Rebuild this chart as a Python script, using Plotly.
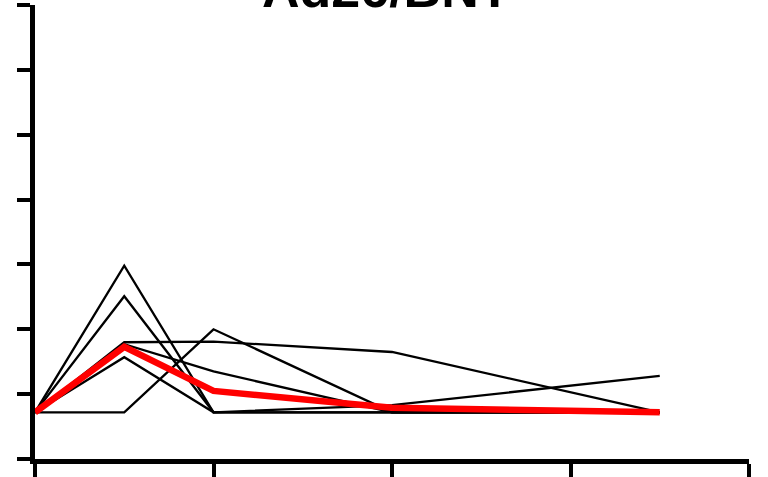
import plotly.graph_objects as go

# Sampling times (x axis) and axis tick positions
times = [0, 1, 2, 4, 7]
x_ticks = [0, 2, 4, 6, 8]
y_ticks = [0, 1, 2, 3, 4, 5, 6, 7]

# Individual subject responses
subject_1 = [0.72, 2.98, 0.72, 0.72, 0.72]
subject_2 = [0.72, 2.51, 0.72, 0.72, 0.72]
subject_3 = [0.72, 1.80, 1.81, 1.65, 0.72]
subject_4 = [0.72, 1.77, 1.35, 0.72, 0.72]
subject_5 = [0.72, 1.57, 0.72, 0.83, 1.28]
subject_6 = [0.72, 0.72, 2.00, 0.72, 0.72]
subjects = [subject_1, subject_2, subject_3, subject_4, subject_5, subject_6]

# Group summary curve
group_mean = [0.72, 1.73, 1.05, 0.79, 0.72]

title_text = "Ad26/BNT"

fig = go.Figure()

for values in subjects:
    fig.add_trace(go.Scatter(
        x=times, y=values, mode="lines",
        line=dict(color="black", width=2.3),
        showlegend=False, hoverinfo="skip",
    ))

fig.add_trace(go.Scatter(
    x=times, y=group_mean, mode="lines",
    line=dict(color="#ff0000", width=6.5),
    showlegend=False,
))

axis_common = dict(
    showgrid=False, zeroline=False, showline=True,
    linecolor="black", linewidth=4.5,
    ticks="outside", ticklen=13, tickwidth=4, tickcolor="black",
    showticklabels=False,
)

fig.update_xaxes(range=[0, 8], tickvals=x_ticks, **axis_common)
fig.update_yaxes(range=[0, 7], tickvals=y_ticks, **axis_common)

fig.add_annotation(
    text="<b>" + title_text + "</b>",
    xref="paper", yref="paper", x=0.492, y=0.967,
    xanchor="center", yanchor="bottom", showarrow=False,
    font=dict(family="Arial, Liberation Sans", size=52, color="black"),
)

fig.update_layout(
    width=768, height=477,
    margin=dict(l=35, r=19, t=5, b=18),
    paper_bgcolor="white", plot_bgcolor="white",
)

fig.write_html("out.html")
